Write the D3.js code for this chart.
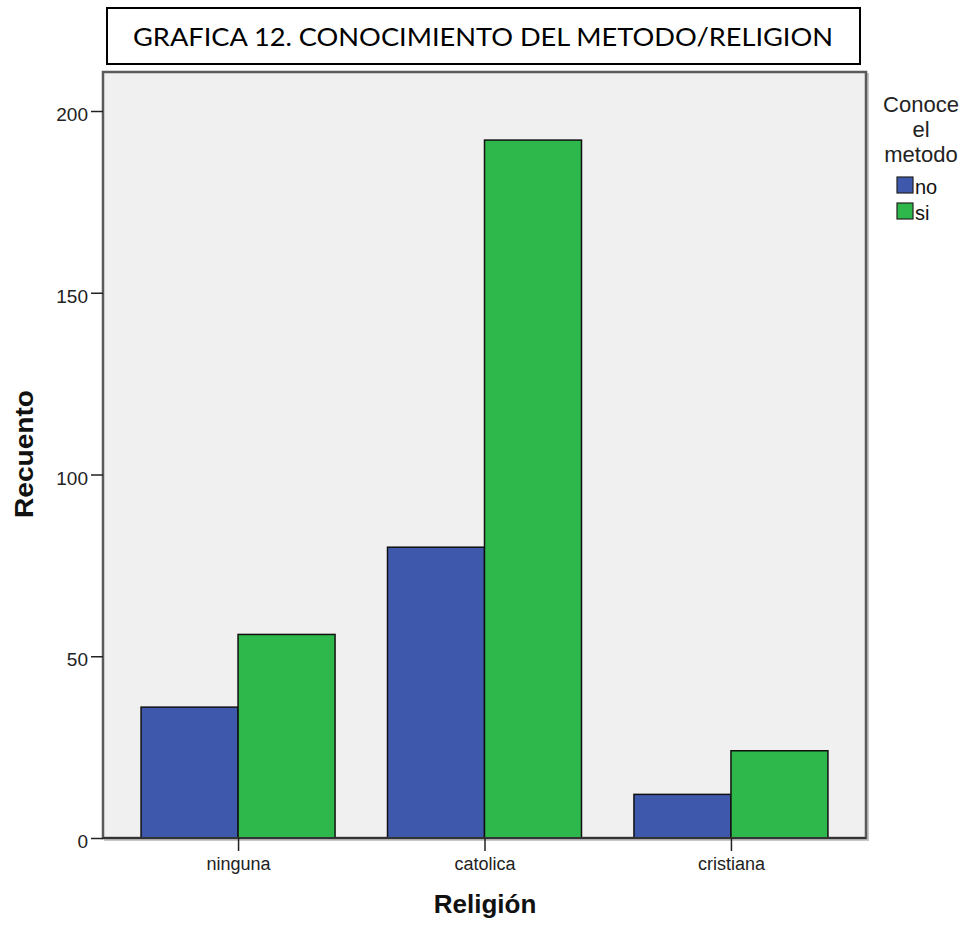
<!DOCTYPE html>
<html><head><meta charset="utf-8">
<script src="https://cdn.jsdelivr.net/npm/d3@7/dist/d3.min.js"></script>
<style>body{margin:0;background:#fff}svg{display:block}</style>
</head><body><div id="chart"></div>
<script>
const categories = ["ninguna", "catolica", "cristiana"];
const seriesNames = ["no", "si"];
const noValues = [36, 80, 12];
const siValues = [56, 192, 24];
const yTicks = [0, 50, 100, 150, 200];
const titleText = "GRAFICA 12. CONOCIMIENTO DEL METODO/RELIGION";
const legendTitle = ["Conoce", "el", "metodo"];
const colors = ["#3e58ac", "#2eb84b"];

const W = 967, H = 926;
const FONT = "Arial, 'Liberation Sans', sans-serif";
const frame = {left: 103, right: 866, top: 72, bottom: 838};
const svg = d3.select("#chart").append("svg").attr("width", W).attr("height", H);

// title box
svg.append("rect").attr("x", 107).attr("y", 8).attr("width", 753).attr("height", 56)
  .attr("fill", "#fff").attr("stroke", "#000").attr("stroke-width", 2);
svg.append("text").attr("x", 133).attr("y", 46).attr("font-family", "Lato, 'Open Sans', sans-serif")
  .attr("font-size", 25).attr("fill", "#000").attr("textLength", 700).attr("lengthAdjust", "spacingAndGlyphs")
  .text(titleText);

// plot frame
svg.append("rect").attr("x", frame.left + 2).attr("y", frame.top + 2)
  .attr("width", frame.right - frame.left).attr("height", frame.bottom - frame.top)
  .attr("fill", "none").attr("stroke", "#c8c8c8").attr("stroke-width", 2);
svg.append("rect").attr("x", frame.left).attr("y", frame.top)
  .attr("width", frame.right - frame.left).attr("height", frame.bottom - frame.top)
  .attr("fill", "#f0f0f0").attr("stroke", "#5a5a5a").attr("stroke-width", 2.5);

const x = d3.scalePoint().domain(categories).range([frame.left, frame.right]).padding(0.548);
const y = d3.scaleLinear().domain([0, 200]).range([frame.bottom, 111]);
const barW = 97;

const data = categories.map((c, i) => ({c, vals: [noValues[i], siValues[i]]}));
const g = svg.append("g");
data.forEach(d => {
  d.vals.forEach((v, j) => {
    const x0 = j === 0 ? x(d.c) - barW : x(d.c);
    g.append("rect").attr("x", x0).attr("y", y(v)).attr("width", barW).attr("height", y(0) - y(v))
      .attr("fill", colors[j]).attr("stroke", "#111").attr("stroke-width", 1.5);
  });
});

// baseline
svg.append("line").attr("x1", frame.left).attr("x2", frame.right).attr("y1", y(0)).attr("y2", y(0))
  .attr("stroke", "#333").attr("stroke-width", 2);

// y axis
const yAxis = d3.axisLeft(y).tickValues(yTicks).tickSize(12).tickPadding(3);
const ya = svg.append("g").attr("transform", `translate(${frame.left},0)`).call(yAxis);
ya.select(".domain").remove();
ya.selectAll(".tick line").attr("stroke", "#222").attr("stroke-width", 1.5);
ya.selectAll("text").attr("font-family", FONT).attr("font-size", 19).attr("fill", "#222").attr("dy", "0.5em");

// x axis
const xAxis = d3.axisBottom(x).tickSize(13).tickPadding(6);
const xa = svg.append("g").attr("transform", `translate(0,${frame.bottom})`).call(xAxis);
xa.select(".domain").remove();
xa.selectAll(".tick line").attr("stroke", "#222").attr("stroke-width", 1.5);
xa.selectAll("text").attr("font-family", FONT).attr("font-size", 18).attr("fill", "#222");

// axis titles
svg.append("text").attr("transform", "translate(33,454) rotate(-90)").attr("text-anchor", "middle")
  .attr("font-family", FONT).attr("font-weight", "bold").attr("font-size", 26)
  .attr("fill", "#111").attr("textLength", 128).attr("lengthAdjust", "spacingAndGlyphs").text("Recuento");
svg.append("text").attr("x", 485).attr("y", 913).attr("text-anchor", "middle")
  .attr("font-family", FONT).attr("font-weight", "bold").attr("font-size", 26)
  .attr("fill", "#111").text("Religión");

// legend
const lg = svg.append("g");
legendTitle.forEach((t, i) => {
  lg.append("text").attr("x", 921).attr("y", 112 + i * 25).attr("text-anchor", "middle")
    .attr("font-family", FONT).attr("font-size", 22).attr("fill", "#222").text(t);
});
seriesNames.forEach((s, i) => {
  lg.append("rect").attr("x", 897).attr("y", 177 + i * 26).attr("width", 16).attr("height", 16)
    .attr("fill", colors[i]).attr("stroke", "#222").attr("stroke-width", 1.2);
  lg.append("text").attr("x", 915).attr("y", 194 + i * 26).attr("font-family", FONT)
    .attr("font-size", 20).attr("fill", "#111").text(s);
});
</script></body></html>
